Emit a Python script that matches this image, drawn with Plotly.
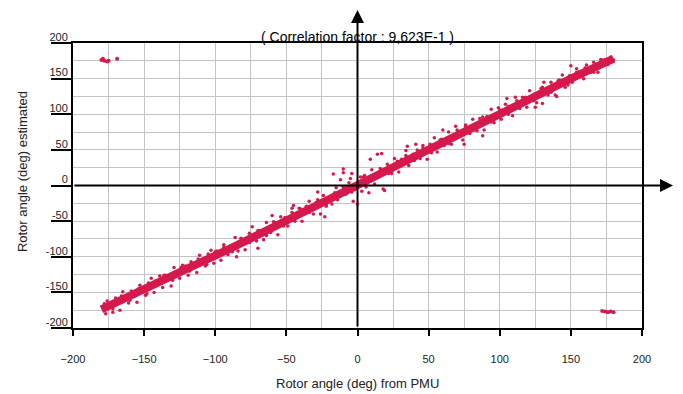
import plotly.graph_objects as go

# ---- data ----
# centre of the dense band of points
band_x = [-180, -150, -120, -90, -60, -30, 0, 30, 60, 90, 120, 150, 180]
band_y = [-174, -147, -117, -89, -59, -29, 2, 31, 61, 91, 121, 150, 178]

# points along the edges of the band
edge_x = [-178, -172, -166, -160, -154, -148, -142, -136, -130, -124, -118, -112, -106, -100, -94, -88, -82, -76,
          -70, -64, -58, -52, -46, -40, -34, -28, -22, -16, -10, -4, 4, 10, 16, 22, 28, 34, 40, 46, 52, 58, 64,
          70, 76, 82, 88, 94, 100, 106, 112, 118, 124, 130, 136, 142, 148, 154, 160, 166, 172, 178]
edge_y = [-166, -173, -155, -161, -145, -152, -134, -126, -133, -115, -120, -103, -111, -93, -87, -93, -74, -80,
          -63, -70, -52, -57, -38, -33, -38, -20, -27, -10, -2, -9, 12, 7, 24, 17, 34, 42, 35, 53, 46, 64, 59,
          78, 83, 78, 96, 89, 106, 100, 119, 124, 119, 138, 131, 148, 141, 159, 165, 159, 176, 173]

# scattered points around the band, lower-left part
ll_x = [-179, -177, -176, -174, -172, -170, -168, -167, -165, -163, -161, -159, -157, -155, -153, -151, -149,
        -147, -145, -143, -141, -139, -137, -135, -133, -131, -129, -127, -125, -123, -121, -119, -117, -115,
        -113, -111, -109, -107, -105, -103, -101]
ll_y = [-170, -180, -162, -168, -178, -158, -165, -175, -149, -158, -165, -148, -155, -164, -140, -144, -154,
        -137, -130, -150, -137, -127, -143, -126, -130, -141, -115, -121, -130, -112, -113, -126, -107, -112,
        -122, -98, -104, -113, -96, -91, -109]

# middle-lower part
ml_x = [-99, -96, -94, -91, -89, -86, -84, -81, -79, -76, -74, -71, -69, -66, -64, -61, -59, -56, -54, -51,
        -49, -46, -44, -41, -39, -36, -34, -31, -29, -26, -24, -22, -23, -28, -60, -85, -45, -70]
ml_y = [-92, -105, -83, -97, -85, -73, -92, -75, -90, -67, -58, -78, -64, -76, -52, -66, -51, -69, -44, -45,
        -57, -32, -50, -32, -50, -29, -22, -40, -24, -40, -14, -29, -44, -9, -42, -100, -28, -88]

# around the origin
c_x = [-17, -10, -10, -4, -12, 9, 17, 14, 18, 19, 8, -3, 0, -15, -8, -5, 3, 5, 12, -18, -6, 2, 6, -2, 10, -14]
c_y = [16, 23, 18, 17, 8, 37, 45, 44, -5, -7, -10, -22, -26, -3, -12, 10, -8, 14, 2, -26, 4, 12, -2, -6, 22, -20]

# middle-upper part
mu_x = [21, 24, 26, 29, 31, 34, 36, 39, 41, 44, 46, 49, 51, 54, 56, 59, 61, 64, 66, 69, 71, 74, 76, 79, 81,
        84, 86, 89, 91, 94, 96, 99, 35, 42, 60, 75, 88]
mu_y = [30, 17, 38, 19, 37, 49, 28, 44, 58, 38, 56, 37, 58, 67, 47, 65, 56, 75, 58, 83, 76, 64, 85, 73, 93,
        77, 94, 78, 97, 107, 88, 109, 55, 50, 78, 58, 70]

# upper-right part
ur_x = [101, 104, 106, 109, 111, 114, 116, 119, 121, 124, 126, 129, 131, 134, 136, 139, 141, 144, 146, 149,
        151, 154, 156, 159, 161, 164, 166, 169, 171, 174, 176, 178, 180, 125, 140, 150, 105, 130]
ur_y = [93, 114, 111, 98, 124, 108, 124, 110, 133, 128, 116, 136, 145, 127, 145, 127, 147, 155, 138, 154,
        145, 164, 160, 150, 169, 159, 173, 159, 177, 177, 170, 180, 176, 110, 125, 168, 122, 115]

# points wrapped around +/-180 deg
wrap_x = [-180, -179, -178, -176, -175, -169, 172, 174, 176, 178, 180]
wrap_y = [176, 178, 175, 174, 175, 178, -176, -177, -178, -177, -178]

x_ticks = [-200, -150, -100, -50, 0, 50, 100, 150, 200]
y_ticks = [-200, -150, -100, -50, 0, 50, 100, 150, 200]

title_text = "( Correlation factor : 9,623E-1 )"
x_title = "Rotor angle (deg) from PMU"
y_title = "Rotor angle (deg) estimated"

RED = "#d6194c"
FONT = "Liberation Sans, Arial, sans-serif"

fig = go.Figure()
fig.add_trace(go.Scatter(x=band_x, y=band_y, mode="lines",
                         line=dict(color=RED, width=8), hoverinfo="skip", showlegend=False))
for xs, ys in [(edge_x, edge_y), (ll_x, ll_y), (ml_x, ml_y), (c_x, c_y), (mu_x, mu_y), (ur_x, ur_y)]:
    fig.add_trace(go.Scatter(x=xs, y=ys, mode="markers",
                             marker=dict(color=RED, size=3.5), showlegend=False))
fig.add_trace(go.Scatter(x=wrap_x, y=wrap_y, mode="markers",
                         marker=dict(color=RED, size=4), showlegend=False))

grid = "#c4c4c4"
fig.update_xaxes(range=[-200, 200], tickvals=x_ticks, ticktext=[str(v).replace("-", "\u2212") for v in x_ticks],
                 showgrid=True, gridcolor=grid, gridwidth=1,
                 minor=dict(dtick=25, showgrid=True, gridcolor=grid, gridwidth=1),
                 zeroline=False, showline=True, mirror=True, linecolor="black", linewidth=2,
                 ticks="outside", ticklen=6, tickwidth=2, tickcolor="black",
                 ticklabelstandoff=14,
                 tickfont=dict(family=FONT, size=11, color="#222"))
fig.update_yaxes(range=[-200, 200], tickvals=y_ticks, ticktext=[str(v) for v in y_ticks],
                 showgrid=True, gridcolor=grid, gridwidth=1,
                 minor=dict(dtick=25, showgrid=True, gridcolor=grid, gridwidth=1),
                 zeroline=False, showline=True, mirror=True, linecolor="black", linewidth=2,
                 ticks="outside", ticklen=20, tickwidth=1.5, tickcolor="black",
                 ticklabelstandoff=-19, ticklabelshift=-6,
                 tickfont=dict(family=FONT, size=11, color="#222"))

annotations = [
    # x axis with arrow
    dict(xref="x domain", yref="y", x=1.0545, y=0, axref="x domain", ayref="y", ax=0, ay=0,
         showarrow=True, arrowhead=2, arrowsize=1.3, arrowwidth=2, arrowcolor="black", text=""),
    # y axis with arrow
    dict(xref="x", yref="y domain", x=0, y=1.1158, axref="x", ayref="y domain", ax=0, ay=0,
         showarrow=True, arrowhead=2, arrowsize=1.3, arrowwidth=2, arrowcolor="black", text=""),
    dict(xref="paper", yref="paper", x=0.5, y=1.021, text=title_text, showarrow=False,
         xanchor="center", yanchor="middle", font=dict(family=FONT, size=14, color="#000")),
    dict(xref="paper", yref="paper", x=0.5, y=-0.193, text=x_title, showarrow=False,
         xanchor="center", yanchor="middle", font=dict(family=FONT, size=13, color="#222")),
    dict(xref="paper", yref="paper", x=-0.0896, y=0.547, text=y_title, showarrow=False, textangle=-90,
         xanchor="center", yanchor="middle", font=dict(family=FONT, size=13, color="#222")),
]

# the page body adds an 8 px margin at the top-left, so the figure is 8 px smaller than the window
fig.update_layout(width=675, height=386, margin=dict(l=65, r=41, t=35, b=66, autoexpand=False),
                  paper_bgcolor="white", plot_bgcolor="white",
                  annotations=annotations, showlegend=False)

fig.write_html("out.html")
